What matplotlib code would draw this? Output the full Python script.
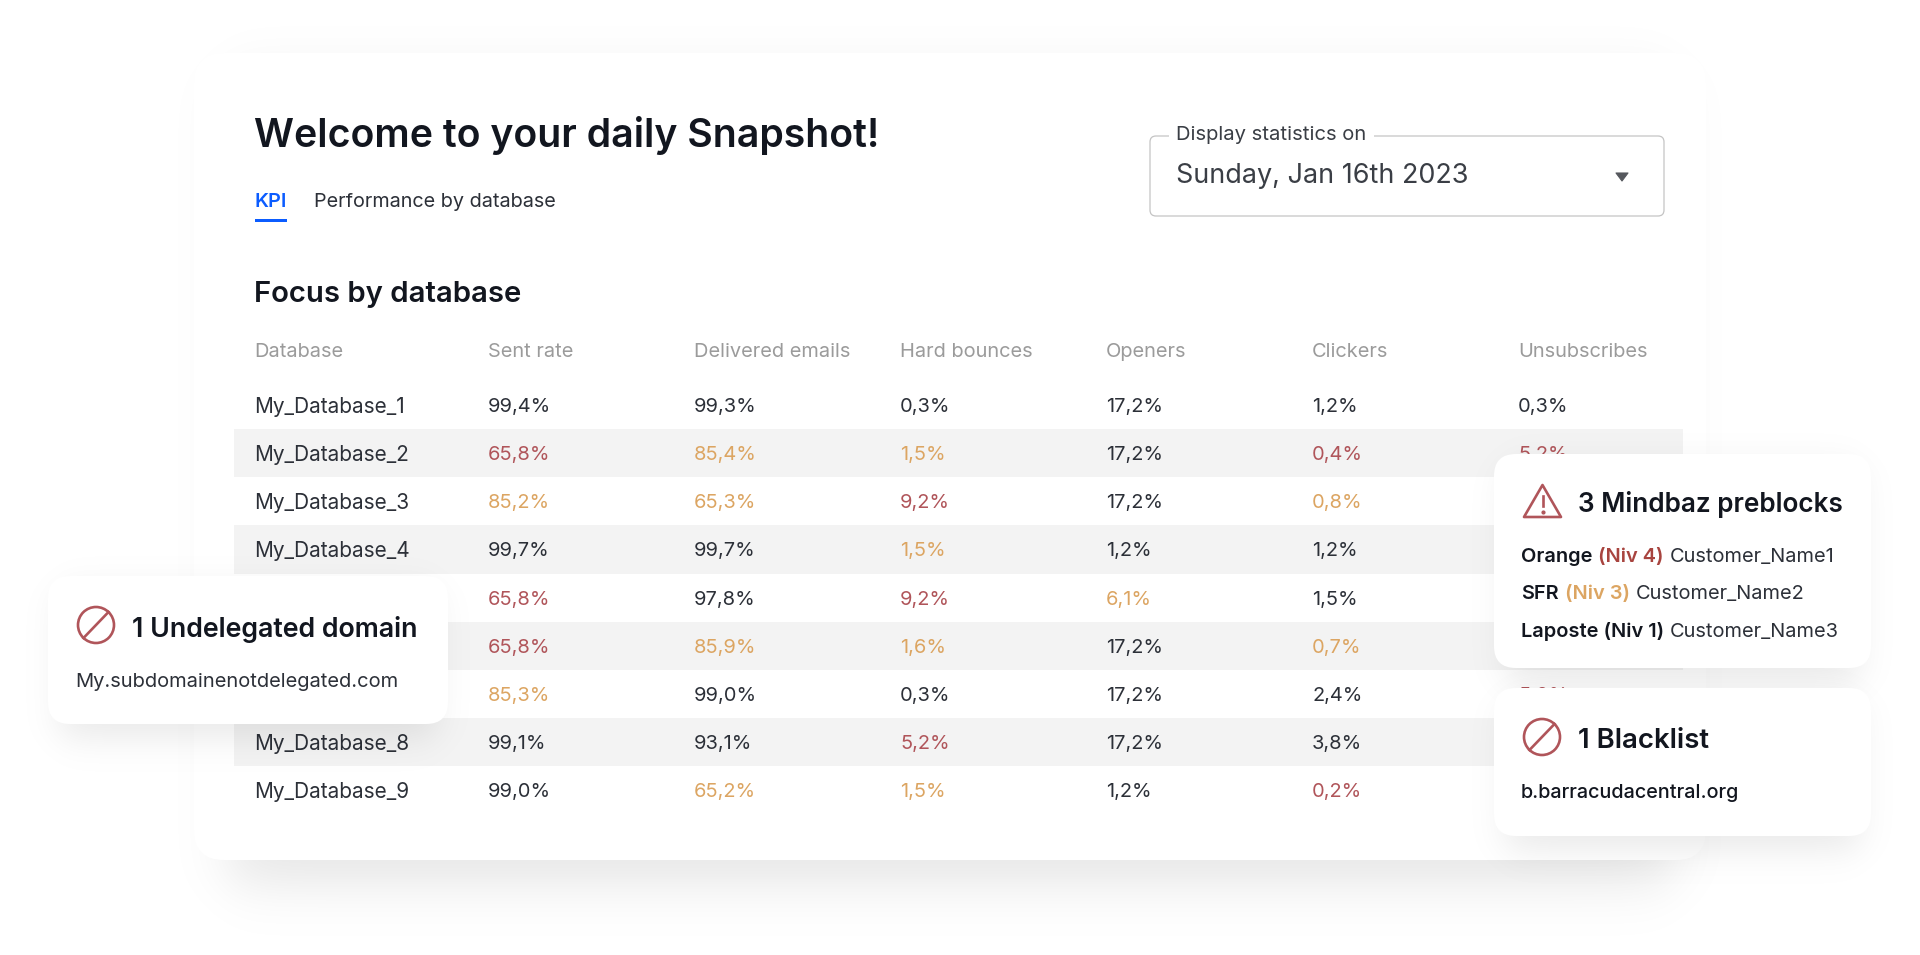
import numpy as np
import matplotlib
matplotlib.use("Agg")
import matplotlib.pyplot as plt
from matplotlib.patches import FancyBboxPatch, Rectangle, Circle, Polygon

plt.rcParams["font.family"] = ["Inter", "DejaVu Sans"]

INK = "#12161f"
BODY = "#2c3038"
GREY = "#9b9b9b"
RED = "#b0555a"
ORANGE = "#dca562"
BLUE = "#0b5cff"
BAND = "#f3f3f3"

# rows 5, 6 and 7 have their names hidden behind the left card
databases = ["My_Database_1", "My_Database_2", "My_Database_3", "My_Database_4", "",
             "", "", "My_Database_8", "My_Database_9"]
headers = ["Database", "Sent rate", "Delivered emails", "Hard bounces", "Openers", "Clickers", "Unsubscribes"]

sent_rate = ["99,4%", "65,8%", "85,2%", "99,7%", "65,8%", "65,8%", "85,3%", "99,1%", "99,0%"]
delivered = ["99,3%", "85,4%", "65,3%", "99,7%", "97,8%", "85,9%", "99,0%", "93,1%", "65,2%"]
hard_bounces = ["0,3%", "1,5%", "9,2%", "1,5%", "9,2%", "1,6%", "0,3%", "5,2%", "1,5%"]
openers = ["17,2%", "17,2%", "17,2%", "1,2%", "6,1%", "17,2%", "17,2%", "17,2%", "1,2%"]
clickers = ["1,2%", "0,4%", "0,8%", "1,2%", "1,5%", "0,7%", "2,4%", "3,8%", "0,2%"]
unsubscribes = ["0,3%", "5,2%", "", "", "", "", "5,0%", "", ""]

# n = normal, w = warning, c = critical
sent_status = "ncwnccwnn"
delivered_status = "nwwnnwnnw"
hard_status = "nwcwcwncw"
openers_status = "nnnnwnnnn"
clickers_status = "ncwnnwnnc"
unsub_status = "ncnnnncnn"

columns = [sent_rate, delivered, hard_bounces, openers, clickers, unsubscribes]
statuses = [sent_status, delivered_status, hard_status, openers_status, clickers_status, unsub_status]
status_colors = {"n": BODY, "w": ORANGE, "c": RED}

fig = plt.figure(figsize=(19.2, 9.55), dpi=100)
ax = fig.add_axes([0, 0, 1, 1])
ax.set_xlim(0, 1920)
ax.set_ylim(955, 0)
ax.axis("off")


def px(size):
    return size * 0.72


def label(x, y, s, size, color=BODY, weight="normal", va="baseline", **kw):
    return ax.text(x, y, s, fontsize=px(size), color=color, fontweight=weight, va=va, ha="left", **kw)


def card(x0, y0, x1, y1, radius, zorder, inset, dy, blur, strength):
    # soft shadow as a see-through image behind the card
    xs = np.arange(1920) + 0.5
    ys = np.arange(955) + 0.5
    fx = 0.5 * (np.tanh((xs - x0 - inset) / blur) - np.tanh((xs - x1 + inset) / blur))
    fy = 0.5 * (np.tanh((ys - y0 - dy) / blur) - np.tanh((ys - y1 - dy) / blur))
    rgba = np.zeros((955, 1920, 4))
    rgba[..., 3] = strength * np.outer(fy, fx)
    ax.imshow(rgba, extent=(0, 1920, 955, 0), aspect="auto", interpolation="nearest", zorder=zorder)
    ax.add_patch(FancyBboxPatch((x0, y0), x1 - x0, y1 - y0,
                                boxstyle="round,pad=0,rounding_size=%f" % radius,
                                fc="white", ec="none", zorder=zorder + 0.1))


def blocked_icon(cx, cy, z):
    ax.add_patch(Circle((cx, cy), 18, fc="none", ec=RED, lw=1.9, zorder=z))
    ax.plot([cx - 12.5, cx + 12.5], [cy + 13, cy - 13], color=RED, lw=1.9, zorder=z)


# main card
card(194, 53, 1706, 860, 30, 1, inset=35, dy=25, blur=32, strength=0.10)

label(254, 147, "Welcome to your daily Snapshot!", 39.2, INK, "semibold", zorder=3)
label(254, 207, "KPI", 19.8, BLUE, "semibold", zorder=3)
ax.add_patch(Rectangle((255, 219), 32, 3, fc=BLUE, ec="none", zorder=3))
label(314, 207, "Performance by database", 19.8, BODY, zorder=3)
label(254, 302, "Focus by database", 29.3, INK, "semibold", zorder=3)

# date selector
ax.add_patch(FancyBboxPatch((1150, 136), 514, 80, boxstyle="round,pad=0,rounding_size=6",
                            fc="white", ec="#c4c4c4", lw=0.9, zorder=3))
ax.add_patch(Rectangle((1169, 130), 205, 12, fc="white", ec="none", zorder=3.1))
label(1176, 135, "Display statistics on", 20.2, "#3a3e45", va="center", zorder=3.2)
label(1176, 183, "Sunday, Jan 16th 2023", 27, "#3a3e45", zorder=3.2)
ax.add_patch(Polygon([[1616, 173], [1628, 173], [1622, 181]], closed=True, fc="#55585d", ec="#55585d",
                     lw=0.8, joinstyle="round", zorder=3.2))

# table
header_x = [254, 488, 694, 900, 1106, 1312, 1518]
for x, h in zip(header_x, headers):
    label(x, 357, h, 20, GREY, zorder=3)

row_h = 48.15
for i, name in enumerate(databases):
    cy = 405 + i * row_h
    if i % 2 == 1:
        ax.add_patch(Rectangle((234, cy - row_h / 2), 1449, row_h, fc=BAND, ec="none", zorder=2))
    if name:
        label(254, cy, name, 20.8, BODY, va="center_baseline", zorder=3)
    for x, col, st in zip(header_x[1:], columns, statuses):
        if col[i]:
            label(x, cy, col[i], 20, status_colors[st[i]], va="center_baseline", zorder=3)

# left card
card(48, 576, 448, 724, 22, 5, inset=12, dy=14, blur=22, strength=0.09)
blocked_icon(96, 625, 6)
label(132, 637, "1 Undelegated domain", 26.8, INK, "semibold", zorder=6)
label(75, 687, "My.subdomainenotdelegated.com", 20.1, BODY, zorder=6)

# right card, preblocks
card(1494, 454, 1871, 668, 22, 5, inset=12, dy=14, blur=22, strength=0.09)
ax.add_patch(Polygon([[1542.5, 485], [1561, 517], [1524, 517]], closed=True, fc="none", ec=RED, lw=1.9,
                     joinstyle="round", zorder=6))
ax.plot([1542.5, 1542.5], [496, 506], color=RED, lw=1.9, zorder=6)
ax.plot([1542.5], [511.5], marker="o", ms=2, color=RED, zorder=6)
label(1578, 512, "3 Mindbaz preblocks", 26.2, INK, "semibold", zorder=6)


def run(x, y, parts):
    # draw pieces one after the other on the same baseline
    renderer = fig.canvas.get_renderer()
    for s, color, weight in parts:
        t = label(x, y, s, 20, color, weight, zorder=6)
        x = ax.transData.inverted().transform(t.get_window_extent(renderer).get_points())[1][0] + 6


run(1521, 562, [("Orange", INK, "semibold"), ("(Niv 4)", "#a8443f", "semibold"), ("Customer_Name1", BODY, "normal")])
run(1521, 599, [("SFR", INK, "semibold"), ("(Niv 3)", ORANGE, "semibold"), ("Customer_Name2", BODY, "normal")])
run(1521, 637, [("Laposte (Niv 1)", INK, "semibold"), ("Customer_Name3", BODY, "normal")])

# right card, blacklist
card(1494, 688, 1871, 836, 22, 5.5, inset=12, dy=14, blur=22, strength=0.09)
blocked_icon(1542, 737, 6.5)
label(1578, 748, "1 Blacklist", 27.6, INK, "semibold", zorder=6.5)
label(1521, 798, "b.barracudacentral.org", 19.8, INK, "medium", zorder=6.5)

ax.set_xlim(0, 1920)
ax.set_ylim(955, 0)
fig.savefig("out.png", dpi=100, facecolor="white")
